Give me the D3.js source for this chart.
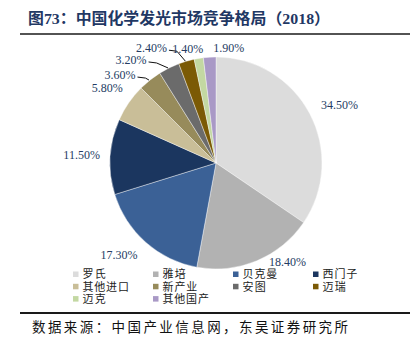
<!DOCTYPE html>
<html><head><meta charset="utf-8">
<script src="https://cdn.jsdelivr.net/npm/d3@7"></script>
<style>
html,body{margin:0;padding:0;background:#fff;}
svg{display:block;}
</style></head>
<body>
<svg id="chart" width="418" height="354"></svg>
<script>
// ---- data ----
const categories = ["罗氏","雅培","贝克曼","西门子","其他进口","新产业","安图","迈瑞","迈克","其他国产"];
const shares = [34.5, 18.4, 17.3, 11.5, 5.8, 3.6, 3.2, 2.4, 1.4, 1.9];
const shareLabels = ["34.50%","18.40%","17.30%","11.50%","5.80%","3.60%","3.20%","2.40%","1.40%","1.90%"];
const titleText = "图73：中国化学发光市场竞争格局（2018）";
const sourceText = "数据来源：中国产业信息网，东吴证券研究所";

// ---- style / layout ----
const colors = ["#dcdcdc","#b2b2b2","#3b6196","#1b365f","#c9be98","#978b5b","#6b6b6b","#7b5a05","#c3d8a2","#a999c6"];
const labelColor = "#243c63";
const serif = "'Liberation Serif','Times New Roman','Noto Sans CJK SC',serif";
const cjk = "'Noto Sans CJK SC',sans-serif";
const cx = 216, cy = 163, r = 106;
// nudges for small crowded labels (offset of label centre from slice edge point), with leader flag
const smallLayout = {
  "新产业": {dx:-30, dy:-5, leader:true},
  "安图": {dx:-38, dy:-8, leader:true},
  "迈瑞": {dx:-35, dy:-13, leader:true},
  "迈克": {dx:-11, dy:-10, leader:false},
  "其他国产": {dx:19, dy:-9, leader:false}
};
// fine adjustments of outside-end labels (best-fit placement)
const bigNudge = {"罗氏":[4,5], "贝克曼":[-9,-8]};

const svg = d3.select("#chart");

// title
svg.append("text").attr("x",28).attr("y",24)
  .attr("font-family","'Liberation Serif','Noto Sans CJK SC',serif")
  .attr("font-weight","bold").attr("font-size",15.5)
  .attr("fill","#1f3864")
  .attr("textLength",302).attr("lengthAdjust","spacingAndGlyphs")
  .text(titleText);
svg.append("line").attr("x1",20).attr("x2",410).attr("y1",34).attr("y2",34)
  .attr("stroke","#1a1a1a").attr("stroke-width",1.5);

// pie
const data = categories.map((c,i)=>({name:c, value:shares[i], label:shareLabels[i], color:colors[i]}));
const pie = d3.pie().sort(null).value(d=>d.value);
const arcs = pie(data);
const arc = d3.arc().innerRadius(0).outerRadius(r);
const g = svg.append("g").attr("transform",`translate(${cx},${cy})`);
g.selectAll("path").data(arcs).join("path")
  .attr("d",arc).attr("fill",d=>d.data.color)
  .attr("stroke","#ffffff").attr("stroke-width",0.4);

// labels
const lg = svg.append("g");
arcs.forEach(a=>{
  const mid = (a.startAngle + a.endAngle)/2;
  const s = Math.sin(mid), c = -Math.cos(mid);
  const t = lg.append("text").attr("font-family",serif).attr("font-size",12)
    .attr("fill",labelColor).attr("text-anchor","middle").attr("dy","0.35em")
    .text(a.data.label);
  const w = t.node().getComputedTextLength(), h = 12;
  const small = smallLayout[a.data.name];
  if (small) {
    const ex = cx + r*s, ey = cy + r*c;
    const tx = ex + small.dx, ty = ey + small.dy;
    t.attr("x",tx).attr("y",ty);
    if (small.leader) {
      const x0 = tx + w/2 + 2, y0 = ty + 2;
      lg.append("polyline")
        .attr("points",`${x0},${y0} ${x0+8},${y0+1} ${ex-1},${ey}`)
        .attr("fill","none").attr("stroke","#111").attr("stroke-width",1);
    }
  } else {
    const gap = 10;
    const R = r + gap + Math.abs(s)*w/2 + Math.abs(c)*h/2;
    let tx = cx + R*s, ty = cy + R*c;
    const nud = bigNudge[a.data.name];
    if (nud) { tx += nud[0]; ty += nud[1]; }
    const maxY = 262;
    if (ty > maxY) {
      ty = maxY;
      const sign = s >= 0 ? 1 : -1;
      const dy = (ty - h/2) - cy;
      const need = Math.sqrt(Math.max(0,(r+1)*(r+1) - dy*dy));
      tx = cx + sign*(need + w/2);
    }
    t.attr("x",tx).attr("y",ty);
  }
});

// legend
const colX = [73,153,233,313], rowY = [274.5,286.8,299.1];
const leg = svg.append("g");
data.forEach((d,i)=>{
  const x = colX[i%4], y = rowY[Math.floor(i/4)];
  leg.append("rect").attr("x",x).attr("y",y-3).attr("width",5.5).attr("height",5.5).attr("fill",d.color);
  leg.append("text").attr("x",x+9.5).attr("y",y).attr("dy","0.36em")
    .attr("font-family",cjk).attr("font-size",11).attr("fill","#222")
    .attr("textLength",d.name.length*11.6).attr("lengthAdjust","spacing")
    .text(d.name);
});

// footer
svg.append("line").attr("x1",20).attr("x2",410).attr("y1",313).attr("y2",313)
  .attr("stroke","#1a1a1a").attr("stroke-width",2);
svg.append("text").attr("x",32).attr("y",327).attr("dy","0.36em")
  .attr("font-family",cjk).attr("font-size",13.5).attr("fill","#111")
  .attr("textLength",316).attr("lengthAdjust","spacing")
  .text(sourceText);
</script>
</body></html>
